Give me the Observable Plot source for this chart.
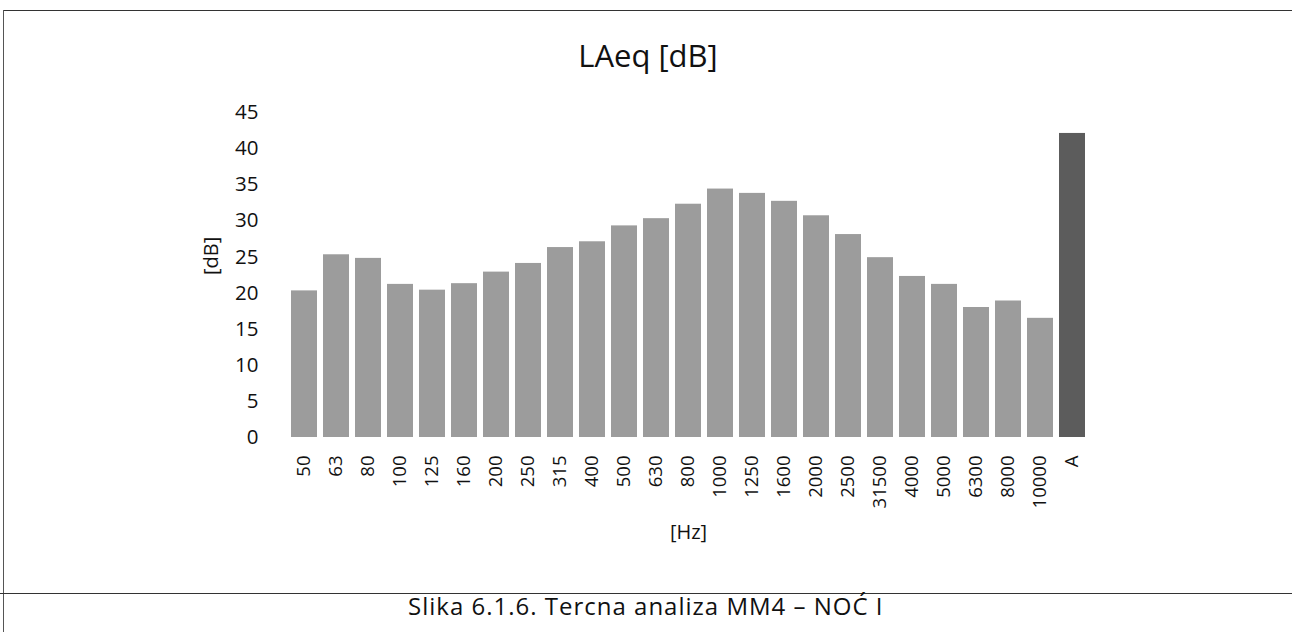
<!DOCTYPE html>
<html>
<head>
<meta charset="utf-8">
<script src="https://cdn.jsdelivr.net/npm/d3@7"></script>
<script src="https://cdn.jsdelivr.net/npm/@observablehq/plot@0.6"></script>
<style>
  html, body { margin: 0; padding: 0; background: #fff; }
  #wrap { position: relative; width: 1292px; height: 632px; overflow: hidden; font-family: "Open Sans", sans-serif; color: #111; }
  #title { position: absolute; left: 0; width: 1292px; top: 40px; text-align: center; font-size: 31px; line-height: 1; padding-left: 2px; }
  #chart { position: absolute; left: 0; top: 0; }
  #caption { position: absolute; left: 408px; top: 594px; font-size: 24px; line-height: 1; letter-spacing: 1px; white-space: nowrap; }
  .hline { position: absolute; height: 1px; background: #333; }
  .vline { position: absolute; width: 1px; background: #555; }
</style>
</head>
<body>
<div id="wrap">
  <div class="hline" style="left:3px; top:10px; width:1289px;"></div>
  <div class="vline" style="left:3px; top:10px; height:622px;"></div>
  <div class="hline" style="left:0px; top:593px; width:1292px;"></div>
  <div id="chart"></div>
  <div id="title">LAeq [dB]</div>
  <div id="caption">Slika 6.1.6. Tercna analiza MM4 – NOĆ I</div>
</div>
<script>
const bands = ["50","63","80","100","125","160","200","250","315","400","500","630","800","1000","1250","1600","2000","2500","31500","4000","5000","6300","8000","10000","A"];
const levels = [20.3,25.3,24.8,21.2,20.4,21.3,22.9,24.1,26.3,27.1,29.3,30.3,32.3,34.4,33.8,32.7,30.7,28.1,24.9,22.3,21.2,18.0,18.9,16.5,42.1];
const yTicks = [0,5,10,15,20,25,30,35,40,45];

const data = bands.map((b, i) => ({band: b, value: levels[i]}));

const chart = Plot.plot({
  width: 1292,
  height: 632,
  marginTop: 112,
  marginBottom: 195,
  marginLeft: 281,
  marginRight: 197,
  style: {fontFamily: "'Open Sans', sans-serif", fontSize: "19px", color: "#111", background: "transparent", overflow: "visible"},
  x: {domain: bands, padding: 0.2, label: null},
  y: {domain: [0, 45], label: null},
  marks: [
    Plot.barY(data.filter(d => d.band !== "A"), {x: "band", y: "value", fill: "#9c9c9c"}),
    Plot.barY(data.filter(d => d.band === "A"), {x: "band", y: "value", fill: "#5c5c5c"}),
    Plot.axisY({ticks: yTicks, tickSize: 0, tickPadding: 23, fontSize: 20.5, label: null}),
    Plot.axisX({tickSize: 0, tickRotate: -90, tickPadding: 18, fontSize: 18.5, label: null}),
    Plot.text(["[Hz]"], {frameAnchor: "bottom", dy: 101, fontSize: 20, fill: "#111"}),
    Plot.text(["[dB]"], {frameAnchor: "left", dx: -70, rotate: -90, fontSize: 20, fill: "#111"})
  ]
});
document.getElementById("chart").appendChild(chart);
</script>
</body>
</html>
